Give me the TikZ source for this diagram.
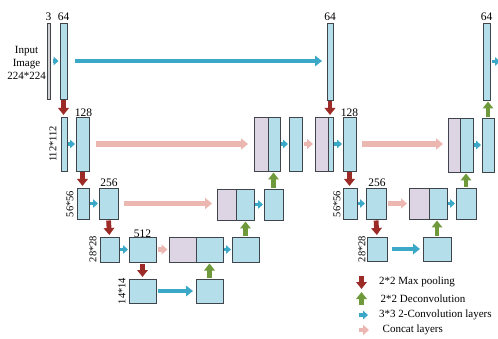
\documentclass[tikz,border=0pt]{standalone}
\usepackage{fontspec}
\setmainfont{Liberation Serif}
\usetikzlibrary{arrows.meta}
\definecolor{boxblue}{RGB}{180,222,233}
\definecolor{lilac}{RGB}{221,213,228}
\definecolor{bordercol}{RGB}{64,69,76}
\definecolor{convblue}{RGB}{58,168,198}
\definecolor{concatpink}{RGB}{236,182,177}
\definecolor{poolred}{RGB}{156,43,39}
\definecolor{deconvgreen}{RGB}{111,154,60}
\newcommand\ubox[6]{\node[#6, anchor=north west, minimum width={(#4-#2)*1pt}, minimum height={(#5-#3)*1pt}] (#1) at (#2,#3) {};}
\begin{document}
\begin{tikzpicture}[x=1pt,y=-1pt,
  layer/.style={draw=bordercol, fill=boxblue, line width=0.9pt, inner sep=0pt, outer sep=0pt},
  catpart/.style={draw=bordercol, fill=lilac, line width=0.9pt, inner sep=0pt, outer sep=0pt},
  inbar/.style={draw=bordercol, fill=gray!35, line width=0.9pt, inner sep=0pt, outer sep=0pt},
  convs/.style={draw=convblue, line width=3.6pt, -{Triangle[width=8.5pt,length=5pt]}, shorten <=1pt, shorten >=1pt},
  convl/.style={draw=convblue, line width=4.8pt, -{Triangle[width=10.5pt,length=7pt]}},
  concat/.style={draw=concatpink, line width=5.2pt, -{Triangle[width=11pt,length=7pt]}},
  concats/.style={draw=concatpink, line width=4.5pt, -{Triangle[width=10pt,length=6pt]}},
  pool/.style={draw=poolred, line width=4.8pt, -{Triangle[width=10.5pt,length=7pt]}, shorten <=1.5pt, shorten >=2pt},
  deconv/.style={draw=deconvgreen, line width=4.8pt, -{Triangle[width=10.5pt,length=7pt]}, shorten <=1pt, shorten >=1.5pt},
  num/.style={font=\fontsize{11.5}{13}\selectfont, inner sep=0pt, anchor=base},
  dimlbl/.style={font=\fontsize{10.5}{12}\selectfont, inner sep=0pt, rotate=90},
  legtxt/.style={font=\fontsize{11}{13}\selectfont, inner sep=0pt, anchor=west}]
\clip (0,0) rectangle (498,339);
% ---------- first U-net ----------
\ubox{b3}{47}{23}{50}{99}{inbar}
\ubox{b64a}{60}{23}{67}{99}{layer}
\ubox{b112}{61}{117}{67}{171}{layer}
\ubox{b128}{76}{117}{89}{171}{layer}
\ubox{b56}{77}{188}{89}{219}{layer}
\ubox{b256}{99}{188}{118}{219}{layer}
\ubox{b28}{100}{237}{119}{262}{layer}
\ubox{b512}{129}{237}{156}{262}{layer}
\ubox{b14}{129}{279}{156}{303}{layer}
\ubox{r5}{196}{279}{223}{303}{layer}
\ubox{c4p}{169}{237}{196}{262}{catpart}
\ubox{c4b}{196}{237}{223}{262}{layer}
\ubox{r4}{232}{237}{259}{262}{layer}
\ubox{c3Lp}{217}{189}{236}{220}{catpart}
\ubox{c3Lb}{236}{189}{254}{220}{layer}
\ubox{r3L}{264}{189}{283}{220}{layer}
\ubox{c2Lp}{254}{117}{268}{171}{catpart}
\ubox{c2Lb}{268}{117}{280}{171}{layer}
\ubox{r2L}{289}{117}{302}{171}{layer}
% ---------- second U-net ----------
\ubox{b64b}{327}{23}{333}{100}{layer}
\ubox{c2Rp}{315}{117}{328}{171}{catpart}
\ubox{c2Rb}{328}{117}{333}{171}{layer}
\ubox{b128R}{343}{117}{356}{171}{layer}
\ubox{b56R}{343}{188}{357}{219}{layer}
\ubox{b256R}{366}{188}{386}{219}{layer}
\ubox{b28R}{367}{237}{387}{261}{layer}
\ubox{r4R}{423}{237}{451}{261}{layer}
\ubox{c3Rp}{409}{188}{429}{219}{catpart}
\ubox{c3Rb}{429}{188}{447}{219}{layer}
\ubox{r3R}{456}{188}{476}{219}{layer}
\ubox{c2R2p}{448}{118}{460}{172}{catpart}
\ubox{c2R2b}{460}{118}{473}{172}{layer}
\ubox{r2R}{482}{118}{494}{172}{layer}
\ubox{b64c}{483}{23}{490}{100}{layer}
% ---------- labels ----------
\node[num] (l3) at (48.5,21) {3};
\node[num] (l64a) at (63.5,21) {64};
\node[num] (l64b) at (330,21) {64};
\node[num] (l64c) at (486.5,21) {64};
\node[num] (l128) at (83.5,116.5) {128};
\node[num] (l128R) at (349.5,116.5) {128};
\node[num] (l256) at (109,187) {256};
\node[num] (l256R) at (377,187) {256};
\node[num] (l512) at (142.5,237.5) {512};
\node[font=\fontsize{11}{13}\selectfont, align=center, inner sep=0pt] (inp) at (26.5,63) {Input\\Image\\224*224};
\node[dimlbl] (d112) at (53,144) {112*112};
\node[dimlbl] (d56) at (70,204) {56*56};
\node[dimlbl] (d28) at (93,249) {28*28};
\node[dimlbl] (d14) at (122,291) {14*14};
\node[dimlbl] (d56R) at (337,204) {56*56};
\node[dimlbl] (d28R) at (362,249) {28*28};
% ---------- convolution arrows ----------
\draw[convs, shorten <=2.5pt, shorten >=1.5pt] (b3) -- (b3 -| b64a.west);
\draw[convs] (b112.east |- b128) -- (b128.west);
\draw[convs] (b56) -- (b256);
\draw[convs] (b28) -- (b512);
\draw[convs] (c4b) -- (r4);
\draw[convs] (c3Lb) -- (r3L);
\draw[convs] (c2Lb) -- (r2L);
\draw[convs] (c2Rb) -- (b128R);
\draw[convs] (b56R) -- (b256R);
\draw[convs] (c3Rb) -- (r3R);
\draw[convs] (c2R2b) -- (r2R);
\coordinate (outR) at (500,61.5);
\draw[convs, shorten >=0pt, shorten <=2pt] (b64c.east |- outR) -- (outR);
\draw[convl, shorten <=8pt, shorten >=5pt] (b64a.east) -- (b64a.east -| b64b.west);
\draw[convl, shorten <=2pt, shorten >=3pt] (b14) -- (r5);
\draw[convl, shorten <=5pt, shorten >=3pt] (b28R) -- (r4R);
% ---------- concat arrows ----------
\draw[concat, shorten <=7pt, shorten >=6pt] (b128) -- (c2Lp);
\draw[concat, shorten <=6pt, shorten >=5pt] (b256) -- (b256 -| c3Lp.west);
\draw[concat, shorten <=6pt, shorten >=5pt] (b128R) -- (b128R -| c2R2p.west);
\draw[concats, shorten <=1.5pt, shorten >=2pt] (r2L) -- (c2Rp);
\draw[concats, shorten <=1.5pt, shorten >=2pt] (b256R) -- (c3Rp);
\draw[concats, shorten <=2pt, shorten >=1.5pt] (b512) -- (c4p);
% ---------- pooling arrows ----------
\draw[pool] (b64a) -- (b64a |- b112.north);
\draw[pool] (b128) -- (b128 |- b56.north);
\draw[pool] (b256.south) -- (b28.north);
\draw[pool] (b512) -- (b14);
\draw[pool] (b64b.south) -- (b64b.south |- c2Rb.north);
\draw[pool] (b128R.south) -- (b128R.south |- b56R.north);
\draw[pool] (b256R.south) -- (b28R.north);
% ---------- deconvolution arrows ----------
\draw[deconv] (r5) -- (c4b);
\draw[deconv] (r4.north) -- (r4.north |- c3Lb.south);
\draw[deconv] (r3L.north) -- (r3L.north |- c2Lb.south);
\draw[deconv] (r4R.north) -- (r4R.north |- c3Rb.south);
\draw[deconv] (r3R.north) -- (r3R.north |- c2R2b.south);
\draw[deconv] (r2R.north) -- (r2R.north |- b64c.south);
% ---------- legend ----------
\coordinate (lg1a) at (361.5,276); \coordinate (lg1b) at (361.5,289);
\coordinate (lg2a) at (361.5,305); \coordinate (lg2b) at (361.5,292);
\coordinate (lg3a) at (358.5,315); \coordinate (lg3b) at (368,315);
\coordinate (lg4a) at (358.5,330); \coordinate (lg4b) at (369,330);
\draw[pool, shorten <=0pt, shorten >=0pt] (lg1a) -- (lg1b);
\draw[deconv, shorten <=0pt, shorten >=0pt] (lg2a) -- (lg2b);
\draw[convs, shorten <=0pt, shorten >=0pt] (lg3a) -- (lg3b);
\draw[concats, shorten <=0pt, shorten >=0pt] (lg4a) -- (lg4b);
\node[legtxt] (t1) at (379,282) {2*2 Max pooling};
\node[legtxt] (t2) at (380.5,299) {2*2 Deconvolution};
\node[legtxt] (t3) at (379,315) {3*3 2-Convolution layers};
\node[legtxt] (t4) at (382.5,330) {Concat layers};
\end{tikzpicture}
\end{document}
